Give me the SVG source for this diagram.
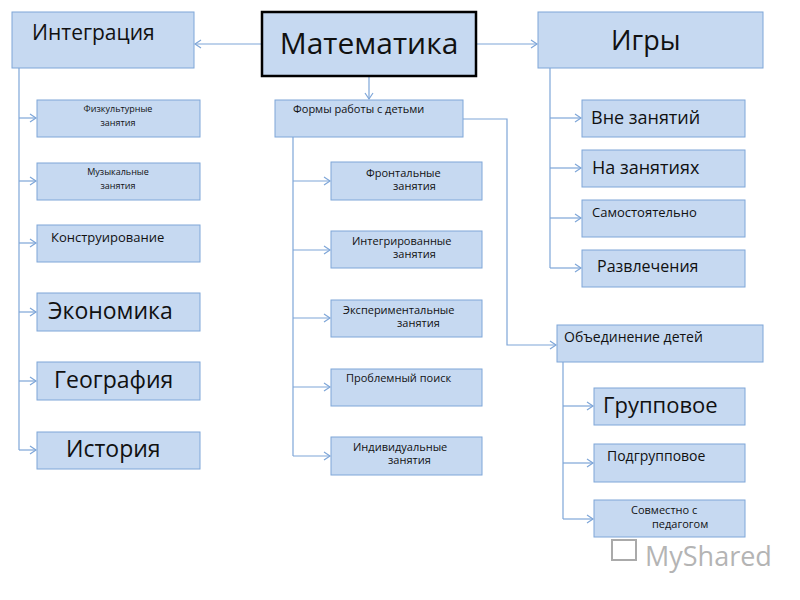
<svg xmlns="http://www.w3.org/2000/svg" width="800" height="600" viewBox="0 0 800 600">
<style>
.b{fill:#c6d9f1;stroke:#7ea6d8;stroke-width:1}
.t{font-family:"Open Sans","Liberation Sans",sans-serif;fill:#111}
.c{fill:none;stroke:#7ea6d8;stroke-width:1.2}
.a{fill:none;stroke:#7ea6d8;stroke-width:1.2;marker-end:url(#m)}
</style>
<defs><marker id="m" markerWidth="10" markerHeight="10" refX="8" refY="5" orient="auto" markerUnits="userSpaceOnUse"><path d="M2,1 L8,5 L2,9" fill="none" stroke="#7ea6d8" stroke-width="1.2"/></marker></defs>
<rect width="800" height="600" fill="#fff"/>
<g id="connectors">
<path class="a" d="M262,44 H195"/><path class="a" d="M476,44 H537"/><path class="a" d="M369,76 V99"/>
<path class="c" d="M19,68 V450"/>
<path class="a" d="M19,118 H36"/><path class="a" d="M19,181 H36"/><path class="a" d="M19,243 H36"/><path class="a" d="M19,312 H36"/><path class="a" d="M19,381 H36"/><path class="a" d="M19,450 H36"/>
<path class="c" d="M293,137 V456"/>
<path class="a" d="M293,181 H330"/><path class="a" d="M293,250 H330"/><path class="a" d="M293,318 H330"/><path class="a" d="M293,387 H330"/><path class="a" d="M293,456 H330"/>
<path class="a" d="M463,119 H507 V345 H556"/>
<path class="c" d="M563,362 V519"/>
<path class="a" d="M563,406 H593"/><path class="a" d="M563,463 H593"/><path class="a" d="M563,519 H593"/>
<path class="c" d="M550,68 V268"/>
<path class="a" d="M550,118 H581"/><path class="a" d="M550,168 H581"/><path class="a" d="M550,218 H581"/><path class="a" d="M550,268 H581"/>
</g>
<g id="math"><rect x="262" y="12" width="214" height="64" fill="#c6d9f1" stroke="#000" stroke-width="2.5"/><text class="t" x="369" y="54" font-size="30" text-anchor="middle">Математика</text></g>
<g id="integr"><rect class="b" x="12" y="12" width="182" height="56"/><text class="t" x="32" y="40" font-size="21">Интеграция</text></g>
<g id="games"><rect class="b" x="538" y="12" width="225" height="56"/><text class="t" x="611" y="50" font-size="27">Игры</text></g>
<g id="i1"><rect class="b" x="37" y="100" width="163" height="37"/><text class="t" font-size="9" text-anchor="middle"><tspan x="118" y="112">Физкультурные</tspan><tspan x="118" y="126">занятия</tspan></text></g>
<g id="i2"><rect class="b" x="37" y="163" width="163" height="37"/><text class="t" font-size="9" text-anchor="middle"><tspan x="118" y="175">Музыкальные</tspan><tspan x="118" y="189">занятия</tspan></text></g>
<g id="i3"><rect class="b" x="37" y="225" width="163" height="37"/><text class="t" x="51" y="242" font-size="13">Конструирование</text></g>
<g id="i4"><rect class="b" x="37" y="293" width="163" height="38"/><text class="t" x="48" y="319" font-size="23">Экономика</text></g>
<g id="i5"><rect class="b" x="37" y="362" width="163" height="38"/><text class="t" x="54" y="388" font-size="23">География</text></g>
<g id="i6"><rect class="b" x="37" y="432" width="163" height="37"/><text class="t" x="66" y="457" font-size="23">История</text></g>
<g id="forms"><rect class="b" x="275" y="100" width="188" height="37"/><text class="t" x="293" y="113" font-size="11">Формы работы с детьми</text></g>
<g id="f1"><rect class="b" x="331" y="162" width="151" height="38"/><text class="t" font-size="11"><tspan x="366" y="177">Фронтальные</tspan><tspan x="393" y="190">занятия</tspan></text></g>
<g id="f2"><rect class="b" x="331" y="231" width="151" height="37"/><text class="t" font-size="11"><tspan x="352" y="245">Интегрированные</tspan><tspan x="393" y="258">занятия</tspan></text></g>
<g id="f3"><rect class="b" x="331" y="300" width="151" height="37"/><text class="t" font-size="11"><tspan x="343" y="314">Экспериментальные</tspan><tspan x="397" y="327">занятия</tspan></text></g>
<g id="f4"><rect class="b" x="331" y="369" width="151" height="37"/><text class="t" x="346" y="382" font-size="11">Проблемный поиск</text></g>
<g id="f5"><rect class="b" x="331" y="437" width="151" height="38"/><text class="t" font-size="11"><tspan x="353" y="451">Индивидуальные</tspan><tspan x="388" y="464">занятия</tspan></text></g>
<g id="g1"><rect class="b" x="582" y="100" width="163" height="37"/><text class="t" x="591" y="124" font-size="18">Вне занятий</text></g>
<g id="g2"><rect class="b" x="582" y="150" width="163" height="37"/><text class="t" x="592" y="174" font-size="18">На занятиях</text></g>
<g id="g3"><rect class="b" x="582" y="200" width="163" height="37"/><text class="t" x="592" y="217" font-size="13">Самостоятельно</text></g>
<g id="g4"><rect class="b" x="582" y="250" width="163" height="37"/><text class="t" x="597" y="272" font-size="16">Развлечения</text></g>
<g id="union"><rect class="b" x="557" y="325" width="206" height="37"/><text class="t" x="564" y="342" font-size="14">Объединение детей</text></g>
<g id="u1"><rect class="b" x="594" y="388" width="151" height="37"/><text class="t" x="603" y="413" font-size="22">Групповое</text></g>
<g id="u2"><rect class="b" x="594" y="444" width="151" height="38"/><text class="t" x="607" y="461" font-size="14">Подгрупповое</text></g>
<g id="u3"><rect class="b" x="594" y="500" width="151" height="37"/><text class="t" font-size="11"><tspan x="631" y="514">Совместно с</tspan><tspan x="652" y="528">педагогом</tspan></text></g>
<g id="watermark" opacity="0.55"><rect x="612" y="540" width="24" height="20" fill="none" stroke="#666" stroke-width="2"/><text x="645" y="566" font-family="Open Sans,Liberation Sans,sans-serif" font-size="27" fill="#777">MyShared</text></g>
</svg>
